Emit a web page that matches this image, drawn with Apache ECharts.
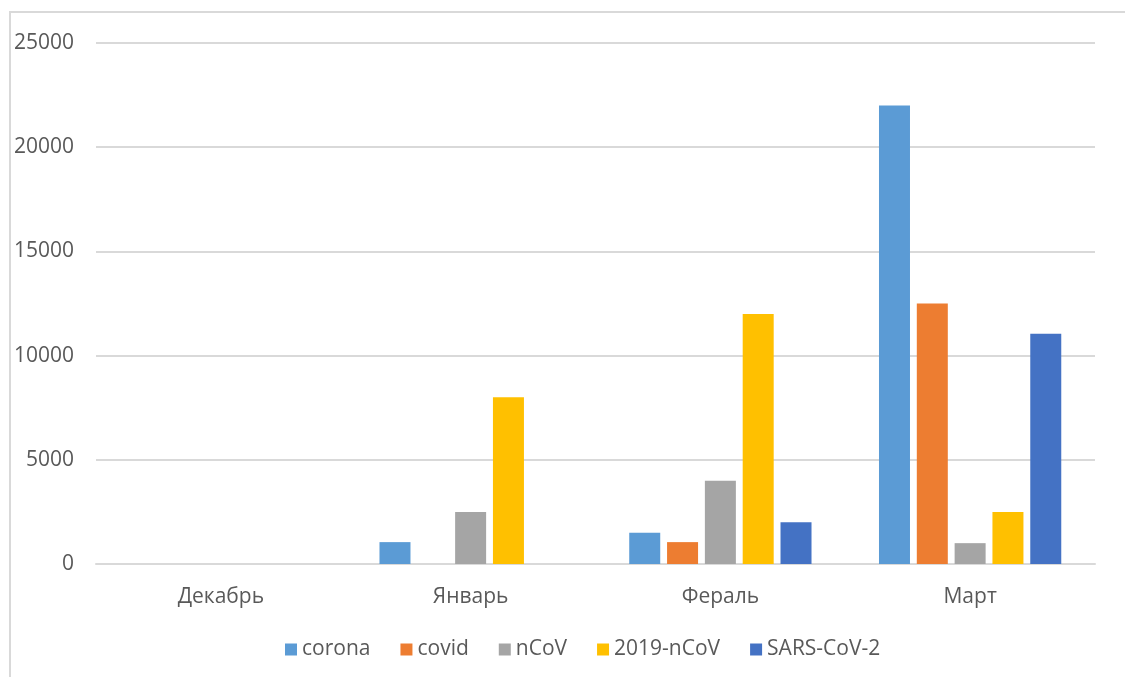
<!DOCTYPE html>
<html>
<head>
<meta charset="utf-8">
<script src="https://cdn.jsdelivr.net/npm/echarts@6/dist/echarts.min.js"></script>
<style>
  html, body { margin: 0; padding: 0; background: #fff; }
  .frame {
    position: absolute; left: 9px; top: 11px; width: 1120px; height: 670px;
    border-left: 2px solid #d9d9d9; border-top: 2px solid #d9d9d9;
  }
  #chart { position: absolute; left: 0; top: 0; width: 1125px; height: 677px; }
</style>
</head>
<body>
<div class="frame"></div>
<div id="chart"></div>
<script>
const months = ['Декабрь', 'Январь', 'Фераль', 'Март']
const corona = [0, 1050, 1500, 22000]
const covid = [0, 0, 1050, 12500]
const ncov = [0, 2500, 4000, 1000]
const ncov2019 = [0, 8000, 12000, 2500]
const sarsCov2 = [0, 0, 2000, 11050]

const seriesNames = ['corona', 'covid', 'nCoV', '2019-nCoV', 'SARS-CoV-2']
const seriesData = [corona, covid, ncov, ncov2019, sarsCov2]
const colors = ['#5b9bd5', '#ed7d31', '#a5a5a5', '#ffc000', '#4472c4']

const textColor = '#595959'
const fontFamily = '"Open Sans", "Noto Sans", sans-serif'

const chart = echarts.init(document.getElementById('chart'))
chart.setOption({
  animation: false,
  color: colors,
  textStyle: { fontFamily },
  grid: {
    left: 96,
    right: 30,
    top: 43,
    bottom: 113,
  },
  legend: {
    bottom: 12,
    left: 280,
    itemWidth: 12,
    itemHeight: 12,
    itemGap: 30,
    icon: 'rect',
    textStyle: { color: textColor, fontSize: 21, fontFamily },
    data: seriesNames,
  },
  xAxis: {
    type: 'category',
    data: months,
    axisTick: { show: false },
    axisLine: { lineStyle: { color: '#d9d9d9', width: 2 } },
    axisLabel: { color: textColor, fontSize: 21, margin: 23 },
  },
  yAxis: {
    type: 'value',
    min: 0,
    max: 25000,
    interval: 5000,
    axisLine: { show: false },
    axisTick: { show: false },
    axisLabel: { color: textColor, fontSize: 21, margin: 22, formatter: v => String(v) },
    splitLine: { lineStyle: { color: '#d9d9d9', width: 2 } },
  },
  series: seriesNames.map((name, i) => ({
    name,
    type: 'bar',
    data: seriesData[i],
    barWidth: 31,
    barGap: '22%',
  })),
})
</script>
</body>
</html>
